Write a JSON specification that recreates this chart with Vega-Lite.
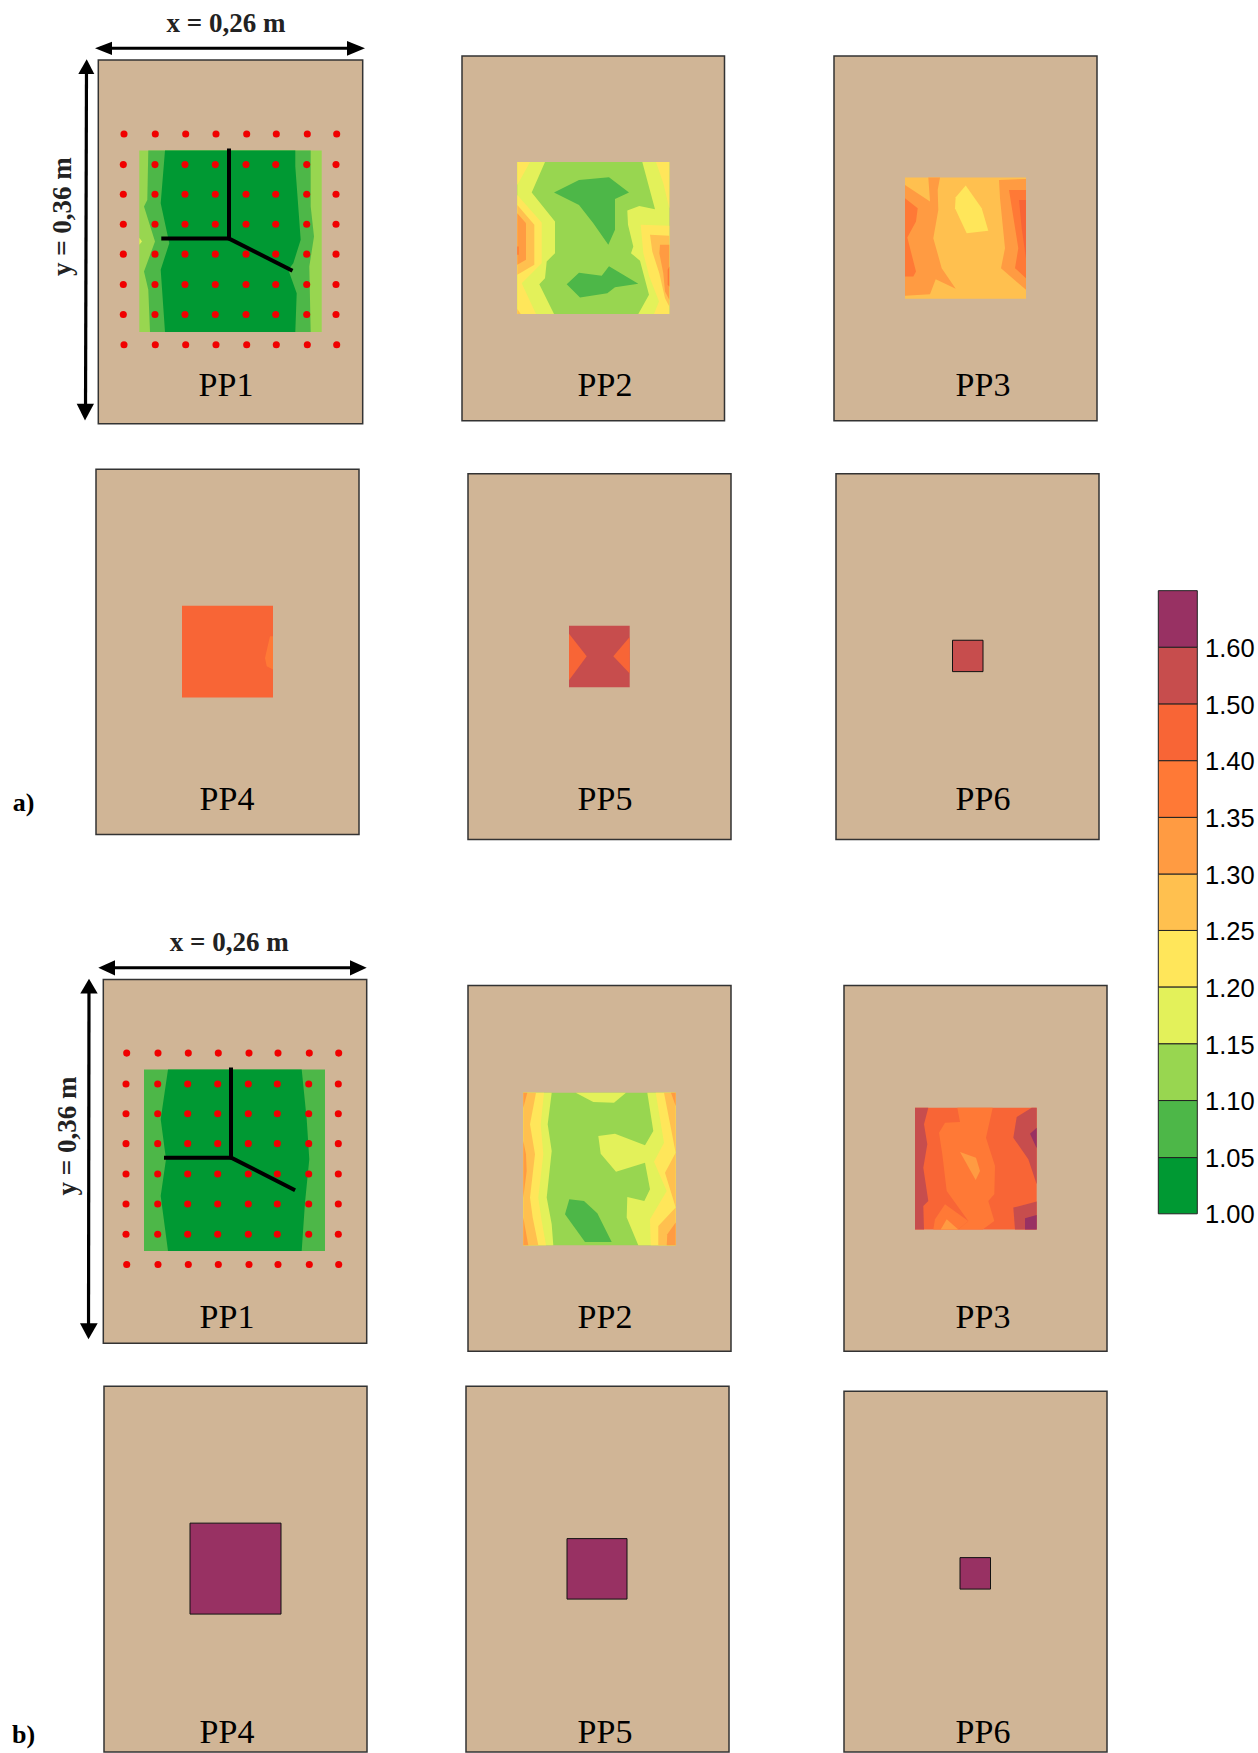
{"$schema":"https://vega.github.io/schema/vega-lite/v6.json","width":1258,"height":1753,"autosize":{"type":"fit","contains":"padding"},"padding":0,"background":"white","config":{"view":{"stroke":null}},
"datasets":{
"plates":[{"x":98.3,"x2":362.7,"y":60,"y2":424},{"x":462,"x2":724.5,"y":56,"y2":421},{"x":834,"x2":1097,"y":56,"y2":421},{"x":96,"x2":359,"y":469.5,"y2":835},{"x":468,"x2":731,"y":474,"y2":840},{"x":836,"x2":1099,"y":474,"y2":840},{"x":103.3,"x2":366.7,"y":980,"y2":1344},{"x":468,"x2":731,"y":986,"y2":1352},{"x":844,"x2":1107,"y":986,"y2":1352},{"x":104,"x2":367,"y":1387,"y2":1753},{"x":466,"x2":729,"y":1387,"y2":1753},{"x":844,"x2":1107,"y":1392,"y2":1753}],
"squares":[{"c":"1.10","x":139.3,"x2":321.7,"y":150.7,"y2":332.3},{"c":"1.10","x":517.3,"x2":669.3,"y":162,"y2":314.3},{"c":"1.25","x":905,"x2":1026,"y":177.7,"y2":299},{"c":"1.40","x":182,"x2":273,"y":606,"y2":698},{"c":"1.50","x":569,"x2":629.7,"y":626,"y2":687.7},{"c":"1.05","x":144,"x2":325,"y":1070,"y2":1251.7},{"c":"1.10","x":523.3,"x2":675.7,"y":1093.3,"y2":1246},{"c":"1.40","x":915,"x2":1036.7,"y":1108.3,"y2":1230.3}],
"outlined":[{"c":"1.50","x":952.5,"x2":983,"y":640.6,"y2":672},{"c":"1.60","x":190,"x2":281,"y":1524,"y2":1615},{"c":"1.60","x":567,"x2":627,"y":1539.5,"y2":1600},{"c":"1.60","x":960,"x2":990.5,"y":1558.5,"y2":1590}],
"colorbar":[{"c":"1.60","x":1158.3,"x2":1197.3,"y":591,"y2":647.7},{"c":"1.50","x":1158.3,"x2":1197.3,"y":647.7,"y2":704.5},{"c":"1.40","x":1158.3,"x2":1197.3,"y":704.5,"y2":761.2},{"c":"1.35","x":1158.3,"x2":1197.3,"y":761.2,"y2":817.9},{"c":"1.30","x":1158.3,"x2":1197.3,"y":817.9,"y2":874.7},{"c":"1.25","x":1158.3,"x2":1197.3,"y":874.7,"y2":931},{"c":"1.20","x":1158.3,"x2":1197.3,"y":931,"y2":987.7},{"c":"1.15","x":1158.3,"x2":1197.3,"y":987.7,"y2":1044.5},{"c":"1.10","x":1158.3,"x2":1197.3,"y":1044.5,"y2":1101.2},{"c":"1.05","x":1158.3,"x2":1197.3,"y":1101.2,"y2":1158.3},{"c":"1.00","x":1158.3,"x2":1197.3,"y":1158.3,"y2":1214.5}],
"ticks":[{"t":"1.60","x":1205,"y":649.5},{"t":"1.50","x":1205,"y":706.5},{"t":"1.40","x":1205,"y":762},{"t":"1.35","x":1205,"y":819},{"t":"1.30","x":1205,"y":876},{"t":"1.25","x":1205,"y":933},{"t":"1.20","x":1205,"y":989.5},{"t":"1.15","x":1205,"y":1046.5},{"t":"1.10","x":1205,"y":1102.5},{"t":"1.05","x":1205,"y":1159.5},{"t":"1.00","x":1205,"y":1216}],
"labels":[{"t":"PP1","x":226,"y":386},{"t":"PP2","x":605,"y":386},{"t":"PP3","x":983,"y":386},{"t":"PP4","x":227,"y":800.5},{"t":"PP5","x":605,"y":800.5},{"t":"PP6","x":983,"y":800.5},{"t":"PP1","x":227,"y":1319},{"t":"PP2","x":605,"y":1319},{"t":"PP3","x":983,"y":1319},{"t":"PP4","x":227,"y":1734},{"t":"PP5","x":605,"y":1734},{"t":"PP6","x":983,"y":1734}],
"dims":[{"t":"x = 0,26 m","x":226,"y":24},{"t":"x = 0,26 m","x":229.3,"y":944}],
"dimsv":[{"t":"y = 0,36 m","x":62.7,"y":216.7},{"t":"y = 0,36 m","x":67.7,"y":1136.7}],
"tags":[{"t":"a)","x":23.5,"y":803},{"t":"b)","x":23.5,"y":1736}],
"polys":[
{"s":"a1y","c":"1.15","x":139.3,"y":238},{"s":"a1y","c":"1.15","x":142,"y":241.7},{"s":"a1y","c":"1.15","x":139.3,"y":245},
{"s":"a1a","c":"1.05","x":148.3,"y":150.7},{"s":"a1a","c":"1.05","x":147.3,"y":200},{"s":"a1a","c":"1.05","x":144,"y":206.7},{"s":"a1a","c":"1.05","x":155,"y":241.7},{"s":"a1a","c":"1.05","x":144,"y":271.7},{"s":"a1a","c":"1.05","x":148.3,"y":290},{"s":"a1a","c":"1.05","x":150,"y":332.3},{"s":"a1a","c":"1.05","x":310.7,"y":332.3},{"s":"a1a","c":"1.05","x":309.3,"y":266.7},{"s":"a1a","c":"1.05","x":314,"y":236.7},{"s":"a1a","c":"1.05","x":310.7,"y":206.7},{"s":"a1a","c":"1.05","x":310.7,"y":150.7},
{"s":"a1b","c":"1.00","x":165,"y":150.7},{"s":"a1b","c":"1.00","x":160.7,"y":203.3},{"s":"a1b","c":"1.00","x":169.3,"y":243.3},{"s":"a1b","c":"1.00","x":160.7,"y":270},{"s":"a1b","c":"1.00","x":165,"y":332.3},{"s":"a1b","c":"1.00","x":295.3,"y":332.3},{"s":"a1b","c":"1.00","x":296.7,"y":293.3},{"s":"a1b","c":"1.00","x":288.3,"y":270},{"s":"a1b","c":"1.00","x":293.3,"y":263.3},{"s":"a1b","c":"1.00","x":300.7,"y":240},{"s":"a1b","c":"1.00","x":295.3,"y":166.7},{"s":"a1b","c":"1.00","x":295.3,"y":150.7},
{"s":"a2a","c":"1.15","x":517.3,"y":162},{"s":"a2a","c":"1.15","x":545,"y":162},{"s":"a2a","c":"1.15","x":531.7,"y":192.7},{"s":"a2a","c":"1.15","x":555,"y":221.7},{"s":"a2a","c":"1.15","x":555,"y":253.3},{"s":"a2a","c":"1.15","x":546.7,"y":261.7},{"s":"a2a","c":"1.15","x":545,"y":278.3},{"s":"a2a","c":"1.15","x":539.3,"y":284.3},{"s":"a2a","c":"1.15","x":554,"y":314.3},{"s":"a2a","c":"1.15","x":517.3,"y":314.3},
{"s":"a2b","c":"1.20","x":517.3,"y":162},{"s":"a2b","c":"1.20","x":530,"y":162},{"s":"a2b","c":"1.20","x":517.3,"y":185},
{"s":"a2c","c":"1.20","x":517.3,"y":195},{"s":"a2c","c":"1.20","x":541.7,"y":222.7},{"s":"a2c","c":"1.20","x":541.7,"y":263.3},{"s":"a2c","c":"1.20","x":521.7,"y":283.3},{"s":"a2c","c":"1.20","x":536,"y":314.3},{"s":"a2c","c":"1.20","x":517.3,"y":314.3},
{"s":"a2d","c":"1.25","x":517.3,"y":205},{"s":"a2d","c":"1.25","x":534.3,"y":225},{"s":"a2d","c":"1.25","x":534.3,"y":265},{"s":"a2d","c":"1.25","x":517.3,"y":275},
{"s":"a2e","c":"1.30","x":517.3,"y":213.3},{"s":"a2e","c":"1.30","x":526,"y":223.3},{"s":"a2e","c":"1.30","x":526,"y":260},{"s":"a2e","c":"1.30","x":517.3,"y":265},
{"s":"a2f","c":"1.35","x":517.3,"y":246.7},{"s":"a2f","c":"1.35","x":518.7,"y":246.7},{"s":"a2f","c":"1.35","x":518.7,"y":255},{"s":"a2f","c":"1.35","x":517.3,"y":255},
{"s":"a2g","c":"1.25","x":517.3,"y":309.3},{"s":"a2g","c":"1.25","x":520.7,"y":314.3},{"s":"a2g","c":"1.25","x":517.3,"y":314.3},
{"s":"a2h","c":"1.15","x":642.3,"y":162},{"s":"a2h","c":"1.15","x":669.3,"y":162},{"s":"a2h","c":"1.15","x":669.3,"y":314.3},{"s":"a2h","c":"1.15","x":638.3,"y":314.3},{"s":"a2h","c":"1.15","x":649,"y":295},{"s":"a2h","c":"1.15","x":640,"y":261},{"s":"a2h","c":"1.15","x":631,"y":253.3},{"s":"a2h","c":"1.15","x":633.3,"y":246.7},{"s":"a2h","c":"1.15","x":628,"y":225},{"s":"a2h","c":"1.15","x":627.3,"y":210.7},{"s":"a2h","c":"1.15","x":639.3,"y":206},{"s":"a2h","c":"1.15","x":655,"y":209.3},
{"s":"a2i","c":"1.20","x":656,"y":162},{"s":"a2i","c":"1.20","x":669.3,"y":162},{"s":"a2i","c":"1.20","x":669.3,"y":208.3},{"s":"a2i","c":"1.20","x":663.3,"y":183.3},
{"s":"a2j","c":"1.20","x":640.7,"y":225},{"s":"a2j","c":"1.20","x":669.3,"y":226},{"s":"a2j","c":"1.20","x":669.3,"y":314.3},{"s":"a2j","c":"1.20","x":654,"y":314.3},{"s":"a2j","c":"1.20","x":659,"y":301.7},{"s":"a2j","c":"1.20","x":649.3,"y":276.7},{"s":"a2j","c":"1.20","x":643.3,"y":253.3},
{"s":"a2k","c":"1.25","x":650,"y":235},{"s":"a2k","c":"1.25","x":669.3,"y":236},{"s":"a2k","c":"1.25","x":669.3,"y":306.7},{"s":"a2k","c":"1.25","x":665,"y":298.3},{"s":"a2k","c":"1.25","x":659.3,"y":273.3},{"s":"a2k","c":"1.25","x":652.3,"y":251.7},
{"s":"a2l","c":"1.30","x":660,"y":245},{"s":"a2l","c":"1.30","x":669.3,"y":245},{"s":"a2l","c":"1.30","x":669.3,"y":300},{"s":"a2l","c":"1.30","x":665,"y":291.7},{"s":"a2l","c":"1.30","x":663.3,"y":273.3},{"s":"a2l","c":"1.30","x":659.3,"y":253.3},
{"s":"a2m","c":"1.35","x":667.7,"y":270},{"s":"a2m","c":"1.35","x":669.3,"y":266.7},{"s":"a2m","c":"1.35","x":669.3,"y":286.7},{"s":"a2m","c":"1.35","x":667.7,"y":285},
{"s":"a2n","c":"1.05","x":554,"y":192.7},{"s":"a2n","c":"1.05","x":579,"y":180},{"s":"a2n","c":"1.05","x":609,"y":177.3},{"s":"a2n","c":"1.05","x":629,"y":192.7},{"s":"a2n","c":"1.05","x":615,"y":199},{"s":"a2n","c":"1.05","x":615,"y":230},{"s":"a2n","c":"1.05","x":608.3,"y":245},{"s":"a2n","c":"1.05","x":593.3,"y":223.3},{"s":"a2n","c":"1.05","x":579,"y":205},
{"s":"a2o","c":"1.05","x":566.7,"y":284.3},{"s":"a2o","c":"1.05","x":579,"y":273},{"s":"a2o","c":"1.05","x":601.7,"y":276},{"s":"a2o","c":"1.05","x":609,"y":266.3},{"s":"a2o","c":"1.05","x":638.3,"y":284},{"s":"a2o","c":"1.05","x":615,"y":287.3},{"s":"a2o","c":"1.05","x":607.3,"y":293.3},{"s":"a2o","c":"1.05","x":580,"y":297.7},
{"s":"a3a","c":"1.30","x":905,"y":185},{"s":"a3a","c":"1.30","x":930,"y":201.7},{"s":"a3a","c":"1.30","x":928.3,"y":177.7},{"s":"a3a","c":"1.30","x":940,"y":177.7},{"s":"a3a","c":"1.30","x":937.7,"y":190},{"s":"a3a","c":"1.30","x":938.3,"y":210},{"s":"a3a","c":"1.30","x":933.3,"y":238.3},{"s":"a3a","c":"1.30","x":941.7,"y":268.3},{"s":"a3a","c":"1.30","x":955.7,"y":289},{"s":"a3a","c":"1.30","x":935.7,"y":279.3},{"s":"a3a","c":"1.30","x":930,"y":294.3},{"s":"a3a","c":"1.30","x":905,"y":296},
{"s":"a3b","c":"1.35","x":905,"y":198.3},{"s":"a3b","c":"1.35","x":917.7,"y":208.3},{"s":"a3b","c":"1.35","x":916,"y":221.7},{"s":"a3b","c":"1.35","x":907.3,"y":237.7},{"s":"a3b","c":"1.35","x":916,"y":271.7},{"s":"a3b","c":"1.35","x":913.3,"y":276.7},{"s":"a3b","c":"1.35","x":905,"y":276.7},
{"s":"a3c","c":"1.30","x":999,"y":180},{"s":"a3c","c":"1.30","x":1026,"y":179},{"s":"a3c","c":"1.30","x":1026,"y":290},{"s":"a3c","c":"1.30","x":1001,"y":268.3},{"s":"a3c","c":"1.30","x":1005,"y":248.3},{"s":"a3c","c":"1.30","x":1000,"y":198.3},
{"s":"a3d","c":"1.35","x":1009,"y":190},{"s":"a3d","c":"1.35","x":1026,"y":190},{"s":"a3d","c":"1.35","x":1026,"y":278.3},{"s":"a3d","c":"1.35","x":1015,"y":268.3},{"s":"a3d","c":"1.35","x":1018.3,"y":248.3},
{"s":"a3e","c":"1.40","x":1019,"y":200},{"s":"a3e","c":"1.40","x":1026,"y":200},{"s":"a3e","c":"1.40","x":1026,"y":258.3},{"s":"a3e","c":"1.40","x":1021.7,"y":228.3},
{"s":"a3f","c":"1.20","x":965.7,"y":185.7},{"s":"a3f","c":"1.20","x":981.7,"y":208.3},{"s":"a3f","c":"1.20","x":988.3,"y":231},{"s":"a3f","c":"1.20","x":966.7,"y":233.3},{"s":"a3f","c":"1.20","x":955,"y":208.3},{"s":"a3f","c":"1.20","x":955.7,"y":197.3},
{"s":"a4a","c":"1.35","x":273,"y":636.7},{"s":"a4a","c":"1.35","x":270,"y":636.7},{"s":"a4a","c":"1.35","x":265,"y":658.3},{"s":"a4a","c":"1.35","x":266.7,"y":666.7},{"s":"a4a","c":"1.35","x":273,"y":670},
{"s":"a5a","c":"1.40","x":569,"y":634},{"s":"a5a","c":"1.40","x":586.7,"y":656.7},{"s":"a5a","c":"1.40","x":569,"y":680.7},
{"s":"a5b","c":"1.40","x":629.7,"y":637.3},{"s":"a5b","c":"1.40","x":613.3,"y":656.7},{"s":"a5b","c":"1.40","x":629.7,"y":674},
{"s":"b1a","c":"1.00","x":168,"y":1070},{"s":"b1a","c":"1.00","x":160.7,"y":1120},{"s":"b1a","c":"1.00","x":166,"y":1160},{"s":"b1a","c":"1.00","x":160.7,"y":1196.7},{"s":"b1a","c":"1.00","x":168,"y":1251.7},{"s":"b1a","c":"1.00","x":301.7,"y":1251.7},{"s":"b1a","c":"1.00","x":305,"y":1203.3},{"s":"b1a","c":"1.00","x":309.3,"y":1160},{"s":"b1a","c":"1.00","x":306.7,"y":1120},{"s":"b1a","c":"1.00","x":301.7,"y":1070},
{"s":"b2a","c":"1.15","x":523.3,"y":1093.3},{"s":"b2a","c":"1.15","x":551.7,"y":1093.3},{"s":"b2a","c":"1.15","x":547.7,"y":1125},{"s":"b2a","c":"1.15","x":551.7,"y":1151.7},{"s":"b2a","c":"1.15","x":546.7,"y":1198.3},{"s":"b2a","c":"1.15","x":551.7,"y":1225},{"s":"b2a","c":"1.15","x":553.3,"y":1246},{"s":"b2a","c":"1.15","x":523.3,"y":1246},
{"s":"b2b","c":"1.20","x":523.3,"y":1093.3},{"s":"b2b","c":"1.20","x":544,"y":1093.3},{"s":"b2b","c":"1.20","x":540.7,"y":1125},{"s":"b2b","c":"1.20","x":543.3,"y":1155},{"s":"b2b","c":"1.20","x":538.3,"y":1198.3},{"s":"b2b","c":"1.20","x":541.7,"y":1221.7},{"s":"b2b","c":"1.20","x":546,"y":1246},{"s":"b2b","c":"1.20","x":523.3,"y":1246},
{"s":"b2c","c":"1.25","x":523.3,"y":1093.3},{"s":"b2c","c":"1.25","x":536,"y":1093.3},{"s":"b2c","c":"1.25","x":530,"y":1125},{"s":"b2c","c":"1.25","x":535,"y":1155},{"s":"b2c","c":"1.25","x":530,"y":1198.3},{"s":"b2c","c":"1.25","x":532.7,"y":1218.3},{"s":"b2c","c":"1.25","x":538.3,"y":1246},{"s":"b2c","c":"1.25","x":523.3,"y":1246},
{"s":"b2d","c":"1.30","x":523.3,"y":1093.3},{"s":"b2d","c":"1.30","x":527.3,"y":1093.3},{"s":"b2d","c":"1.30","x":523.3,"y":1108.3},
{"s":"b2e","c":"1.30","x":523.3,"y":1141.7},{"s":"b2e","c":"1.30","x":526,"y":1155},{"s":"b2e","c":"1.30","x":526.7,"y":1171.7},{"s":"b2e","c":"1.30","x":523.3,"y":1198.3},
{"s":"b2f","c":"1.30","x":523.3,"y":1218.3},{"s":"b2f","c":"1.30","x":528.3,"y":1246},{"s":"b2f","c":"1.30","x":523.3,"y":1246},
{"s":"b2g","c":"1.15","x":575.7,"y":1093.3},{"s":"b2g","c":"1.15","x":626,"y":1093.3},{"s":"b2g","c":"1.15","x":614,"y":1103.3},{"s":"b2g","c":"1.15","x":593.3,"y":1102.7},
{"s":"b2h","c":"1.15","x":647.3,"y":1093.3},{"s":"b2h","c":"1.15","x":675.7,"y":1093.3},{"s":"b2h","c":"1.15","x":675.7,"y":1246},{"s":"b2h","c":"1.15","x":638.3,"y":1246},{"s":"b2h","c":"1.15","x":626.7,"y":1218.3},{"s":"b2h","c":"1.15","x":627.3,"y":1197.7},{"s":"b2h","c":"1.15","x":644.3,"y":1201.7},{"s":"b2h","c":"1.15","x":650,"y":1190},{"s":"b2h","c":"1.15","x":645,"y":1163.3},{"s":"b2h","c":"1.15","x":616,"y":1172.3},{"s":"b2h","c":"1.15","x":600.7,"y":1154.3},{"s":"b2h","c":"1.15","x":598.3,"y":1136.7},{"s":"b2h","c":"1.15","x":615,"y":1134.3},{"s":"b2h","c":"1.15","x":645,"y":1146},{"s":"b2h","c":"1.15","x":653.3,"y":1131.7},
{"s":"b2i","c":"1.20","x":655.7,"y":1093.3},{"s":"b2i","c":"1.20","x":675.7,"y":1093.3},{"s":"b2i","c":"1.20","x":675.7,"y":1246},{"s":"b2i","c":"1.20","x":650.7,"y":1246},{"s":"b2i","c":"1.20","x":650,"y":1220},{"s":"b2i","c":"1.20","x":666.7,"y":1191.7},{"s":"b2i","c":"1.20","x":654,"y":1162.3},{"s":"b2i","c":"1.20","x":664,"y":1143.3},
{"s":"b2j","c":"1.25","x":664,"y":1093.3},{"s":"b2j","c":"1.25","x":675.7,"y":1093.3},{"s":"b2j","c":"1.25","x":675.7,"y":1246},{"s":"b2j","c":"1.25","x":658.3,"y":1246},{"s":"b2j","c":"1.25","x":658.3,"y":1226.7},{"s":"b2j","c":"1.25","x":675.7,"y":1208.3},{"s":"b2j","c":"1.25","x":665,"y":1173.3},{"s":"b2j","c":"1.25","x":675.7,"y":1153.3},
{"s":"b2k","c":"1.30","x":671,"y":1093.3},{"s":"b2k","c":"1.30","x":675.7,"y":1093.3},{"s":"b2k","c":"1.30","x":675.7,"y":1106.7},
{"s":"b2l","c":"1.30","x":675.7,"y":1223.3},{"s":"b2l","c":"1.30","x":675.7,"y":1246},{"s":"b2l","c":"1.30","x":666.7,"y":1246},{"s":"b2l","c":"1.30","x":667.3,"y":1235},
{"s":"b2m","c":"1.05","x":569.3,"y":1200},{"s":"b2m","c":"1.05","x":584,"y":1201.7},{"s":"b2m","c":"1.05","x":597.3,"y":1214},{"s":"b2m","c":"1.05","x":611.7,"y":1242.7},{"s":"b2m","c":"1.05","x":585,"y":1242.7},{"s":"b2m","c":"1.05","x":565,"y":1215},
{"s":"b3a","c":"1.50","x":915,"y":1108.3},{"s":"b3a","c":"1.50","x":928.3,"y":1108.3},{"s":"b3a","c":"1.50","x":924,"y":1125},{"s":"b3a","c":"1.50","x":927.3,"y":1145},{"s":"b3a","c":"1.50","x":923.3,"y":1168.3},{"s":"b3a","c":"1.50","x":928.3,"y":1201.7},{"s":"b3a","c":"1.50","x":923.3,"y":1206.7},{"s":"b3a","c":"1.50","x":924,"y":1230.3},{"s":"b3a","c":"1.50","x":915,"y":1230.3},
{"s":"b3b","c":"1.50","x":1031.7,"y":1108.3},{"s":"b3b","c":"1.50","x":1036.7,"y":1108.3},{"s":"b3b","c":"1.50","x":1036.7,"y":1185},{"s":"b3b","c":"1.50","x":1028.3,"y":1160},{"s":"b3b","c":"1.50","x":1013.3,"y":1138.3},{"s":"b3b","c":"1.50","x":1016.7,"y":1117.7},
{"s":"b3c","c":"1.50","x":1013.3,"y":1208.3},{"s":"b3c","c":"1.50","x":1036.7,"y":1202.3},{"s":"b3c","c":"1.50","x":1036.7,"y":1230.3},{"s":"b3c","c":"1.50","x":1015,"y":1230.3},
{"s":"b3d","c":"1.60","x":1030,"y":1134.3},{"s":"b3d","c":"1.60","x":1036.7,"y":1128.3},{"s":"b3d","c":"1.60","x":1036.7,"y":1149},
{"s":"b3e","c":"1.60","x":1025,"y":1219},{"s":"b3e","c":"1.60","x":1036.7,"y":1215.7},{"s":"b3e","c":"1.60","x":1036.7,"y":1230.3},{"s":"b3e","c":"1.60","x":1025,"y":1230.3},
{"s":"b3f","c":"1.35","x":957.3,"y":1108.3},{"s":"b3f","c":"1.35","x":992.7,"y":1108.3},{"s":"b3f","c":"1.35","x":986,"y":1138.3},{"s":"b3f","c":"1.35","x":995,"y":1166.7},{"s":"b3f","c":"1.35","x":994.3,"y":1195},{"s":"b3f","c":"1.35","x":988.3,"y":1201.7},{"s":"b3f","c":"1.35","x":994.3,"y":1221.7},{"s":"b3f","c":"1.35","x":982.7,"y":1230.3},{"s":"b3f","c":"1.35","x":958.3,"y":1230.3},{"s":"b3f","c":"1.35","x":968.3,"y":1221.7},{"s":"b3f","c":"1.35","x":946.7,"y":1191.7},{"s":"b3f","c":"1.35","x":942.3,"y":1155},{"s":"b3f","c":"1.35","x":939,"y":1133.3},{"s":"b3f","c":"1.35","x":945,"y":1123.3},{"s":"b3f","c":"1.35","x":960,"y":1122.7},
{"s":"b3g","c":"1.35","x":945,"y":1205},{"s":"b3g","c":"1.35","x":968.3,"y":1221.7},{"s":"b3g","c":"1.35","x":958.3,"y":1230.3},{"s":"b3g","c":"1.35","x":933.3,"y":1230.3},{"s":"b3g","c":"1.35","x":935,"y":1220},
{"s":"b3h","c":"1.30","x":960,"y":1152.7},{"s":"b3h","c":"1.30","x":976,"y":1158.3},{"s":"b3h","c":"1.30","x":980,"y":1171.7},{"s":"b3h","c":"1.30","x":975.7,"y":1180.7},
{"s":"b3i","c":"1.30","x":946.7,"y":1220},{"s":"b3i","c":"1.30","x":958.3,"y":1230.3},{"s":"b3i","c":"1.30","x":940.7,"y":1230.3}
],
"heads":[
{"s":"h1","x":95,"y":48.3},{"s":"h1","x":112,"y":41.7},{"s":"h1","x":112,"y":55},
{"s":"h2","x":365,"y":48.3},{"s":"h2","x":347,"y":41},{"s":"h2","x":347,"y":55.7},
{"s":"h3","x":86.7,"y":59.3},{"s":"h3","x":78.3,"y":74},{"s":"h3","x":94.3,"y":74},
{"s":"h4","x":85,"y":420.7},{"s":"h4","x":76.7,"y":404},{"s":"h4","x":94,"y":404},
{"s":"h5","x":98.3,"y":968.3},{"s":"h5","x":115,"y":960.7},{"s":"h5","x":115,"y":976},
{"s":"h6","x":366.7,"y":968.3},{"s":"h6","x":350,"y":960.7},{"s":"h6","x":350,"y":976},
{"s":"h7","x":89,"y":979.3},{"s":"h7","x":80.3,"y":994},{"s":"h7","x":97.7,"y":994},
{"s":"h8","x":88.5,"y":1340},{"s":"h8","x":80,"y":1324},{"s":"h8","x":97.7,"y":1324}
],
"shafts":[
{"s":"s1","x":100,"y":48.3},{"s":"s1","x":360,"y":48.3},
{"s":"s2","x":86.5,"y":65},{"s":"s2","x":85.5,"y":415},
{"s":"s3","x":103,"y":968.3},{"s":"s3","x":362,"y":968.3},
{"s":"s4","x":89,"y":985},{"s":"s4","x":88.5,"y":1335}
],
"cracks":[
{"s":"c1","x":229,"y":150.7},{"s":"c1","x":229,"y":238.7},{"s":"c1","x":163.3,"y":238.7},
{"s":"c2","x":229,"y":238.7},{"s":"c2","x":290.7,"y":270},
{"s":"c3","x":231,"y":1070},{"s":"c3","x":231,"y":1158.3},{"s":"c3","x":166,"y":1158.3},
{"s":"c4","x":231,"y":1158.3},{"s":"c4","x":293.3,"y":1190}
],
"dots":[
{"x":124,"y":134},{"x":155.3,"y":134},{"x":185.7,"y":134},{"x":216,"y":134},{"x":246.7,"y":134},{"x":276.3,"y":134},{"x":307.3,"y":134},{"x":336.7,"y":134},
{"x":123.3,"y":164.7},{"x":155,"y":164.7},{"x":185,"y":164.7},{"x":215.3,"y":164.7},{"x":246,"y":164.7},{"x":275.7,"y":164.7},{"x":306.7,"y":164.7},{"x":336,"y":164.7},
{"x":123.3,"y":194.3},{"x":155,"y":194.3},{"x":185,"y":194.3},{"x":215.3,"y":194.3},{"x":246,"y":194.3},{"x":275.7,"y":194.3},{"x":306.7,"y":194.3},{"x":336,"y":194.3},
{"x":123.3,"y":224.3},{"x":155,"y":224.3},{"x":185,"y":224.3},{"x":215.3,"y":224.3},{"x":246,"y":224.3},{"x":275.7,"y":224.3},{"x":306.7,"y":224.3},{"x":336,"y":224.3},
{"x":123.3,"y":254.3},{"x":155,"y":254.3},{"x":185,"y":254.3},{"x":215.3,"y":254.3},{"x":246,"y":254.3},{"x":275.7,"y":254.3},{"x":306.7,"y":254.3},{"x":336,"y":254.3},
{"x":123.3,"y":284.7},{"x":155,"y":284.7},{"x":185,"y":284.7},{"x":215.3,"y":284.7},{"x":246,"y":284.7},{"x":275.7,"y":284.7},{"x":306.7,"y":284.7},{"x":336,"y":284.7},
{"x":123.3,"y":314.7},{"x":155,"y":314.7},{"x":185,"y":314.7},{"x":215.3,"y":314.7},{"x":246,"y":314.7},{"x":275.7,"y":314.7},{"x":306.7,"y":314.7},{"x":336,"y":314.7},
{"x":124,"y":345},{"x":155.3,"y":345},{"x":185.7,"y":345},{"x":216,"y":345},{"x":246.7,"y":345},{"x":276.3,"y":345},{"x":307.3,"y":345},{"x":336.7,"y":345},
{"x":126.7,"y":1053.7},{"x":158,"y":1053.7},{"x":188.3,"y":1053.7},{"x":218.3,"y":1053.7},{"x":249,"y":1053.7},{"x":278,"y":1053.7},{"x":309.3,"y":1053.7},{"x":338.7,"y":1053.7},
{"x":126,"y":1084.7},{"x":157.7,"y":1084.7},{"x":187.7,"y":1084.7},{"x":217.7,"y":1084.7},{"x":248.3,"y":1084.7},{"x":277.3,"y":1084.7},{"x":308.7,"y":1084.7},{"x":338.3,"y":1084.7},
{"x":126,"y":1114.3},{"x":157.7,"y":1114.3},{"x":187.7,"y":1114.3},{"x":217.7,"y":1114.3},{"x":248.3,"y":1114.3},{"x":277.3,"y":1114.3},{"x":308.7,"y":1114.3},{"x":338.3,"y":1114.3},
{"x":126,"y":1144.3},{"x":157.7,"y":1144.3},{"x":187.7,"y":1144.3},{"x":217.7,"y":1144.3},{"x":248.3,"y":1144.3},{"x":277.3,"y":1144.3},{"x":308.7,"y":1144.3},{"x":338.3,"y":1144.3},
{"x":126,"y":1174.7},{"x":157.7,"y":1174.7},{"x":187.7,"y":1174.7},{"x":217.7,"y":1174.7},{"x":248.3,"y":1174.7},{"x":277.3,"y":1174.7},{"x":308.7,"y":1174.7},{"x":338.3,"y":1174.7},
{"x":126,"y":1204.7},{"x":157.7,"y":1204.7},{"x":187.7,"y":1204.7},{"x":217.7,"y":1204.7},{"x":248.3,"y":1204.7},{"x":277.3,"y":1204.7},{"x":308.7,"y":1204.7},{"x":338.3,"y":1204.7},
{"x":126,"y":1235},{"x":157.7,"y":1235},{"x":187.7,"y":1235},{"x":217.7,"y":1235},{"x":248.3,"y":1235},{"x":277.3,"y":1235},{"x":308.7,"y":1235},{"x":338.3,"y":1235},
{"x":126.7,"y":1265.3},{"x":158,"y":1265.3},{"x":188.3,"y":1265.3},{"x":218.3,"y":1265.3},{"x":249,"y":1265.3},{"x":278,"y":1265.3},{"x":309.3,"y":1265.3},{"x":338.7,"y":1265.3}
]
},
"encoding":{
"x":{"field":"x","type":"quantitative","axis":null,"scale":{"domain":[0,1258],"nice":false,"zero":false}},
"y":{"field":"y","type":"quantitative","axis":null,"scale":{"domain":[1753,0],"nice":false,"zero":false}}
},
"layer":[
{"data":{"name":"plates"},"mark":{"type":"rect","fill":"#D0B596","stroke":"#333333","strokeWidth":1.5},"encoding":{"x2":{"field":"x2"},"y2":{"field":"y2"}}},
{"data":{"name":"squares"},"mark":{"type":"rect"},"encoding":{"x2":{"field":"x2"},"y2":{"field":"y2"},"color":{"field":"c","type":"nominal","legend":null,"scale":{"domain":["1.00","1.05","1.10","1.15","1.20","1.25","1.30","1.35","1.40","1.50","1.60"],"range":["#009933","#4DB748","#98D650","#E3F15A","#FFE65A","#FFC04F","#FF9B42","#FF7936","#F86536","#C74D4D","#983163"]}}}},
{"data":{"name":"polys"},"transform":[{"window":[{"op":"row_number","as":"i"}]}],"mark":{"type":"line","filled":true,"strokeWidth":0,"interpolate":"linear"},"encoding":{"color":{"field":"c","type":"nominal","legend":null},"detail":{"field":"s"},"order":{"field":"i","type":"quantitative"}}},
{"data":{"name":"outlined"},"mark":{"type":"rect","stroke":"#111111","strokeWidth":1},"encoding":{"x2":{"field":"x2"},"y2":{"field":"y2"},"fill":{"field":"c","type":"nominal","legend":null,"scale":{"domain":["1.00","1.05","1.10","1.15","1.20","1.25","1.30","1.35","1.40","1.50","1.60"],"range":["#009933","#4DB748","#98D650","#E3F15A","#FFE65A","#FFC04F","#FF9B42","#FF7936","#F86536","#C74D4D","#983163"]}}}},
{"data":{"name":"colorbar"},"mark":{"type":"rect","stroke":"#222222","strokeWidth":1},"encoding":{"x2":{"field":"x2"},"y2":{"field":"y2"},"fill":{"field":"c","type":"nominal","legend":null}}},
{"data":{"name":"dots"},"mark":{"type":"circle","color":"#F00000","opacity":1,"size":50}},
{"data":{"name":"cracks"},"transform":[{"window":[{"op":"row_number","as":"i"}]}],"mark":{"type":"line","color":"black","strokeWidth":4,"strokeCap":"square","strokeJoin":"miter"},"encoding":{"detail":{"field":"s"},"order":{"field":"i","type":"quantitative"}}},
{"data":{"name":"shafts"},"transform":[{"window":[{"op":"row_number","as":"i"}]}],"mark":{"type":"line","color":"black","strokeWidth":3.2},"encoding":{"detail":{"field":"s"},"order":{"field":"i","type":"quantitative"}}},
{"data":{"name":"heads"},"transform":[{"window":[{"op":"row_number","as":"i"}]}],"mark":{"type":"line","filled":true,"color":"black","strokeWidth":0},"encoding":{"detail":{"field":"s"},"order":{"field":"i","type":"quantitative"}}},
{"data":{"name":"labels"},"mark":{"type":"text","font":"Liberation Serif","fontSize":34,"color":"black","align":"center","baseline":"middle"},"encoding":{"text":{"field":"t"}}},
{"data":{"name":"dims"},"mark":{"type":"text","font":"Liberation Serif","fontWeight":"bold","fontSize":27,"color":"#222222","align":"center","baseline":"middle"},"encoding":{"text":{"field":"t"}}},
{"data":{"name":"dimsv"},"mark":{"type":"text","font":"Liberation Serif","fontWeight":"bold","fontSize":27,"color":"#222222","align":"center","baseline":"middle","angle":270},"encoding":{"text":{"field":"t"}}},
{"data":{"name":"tags"},"mark":{"type":"text","font":"Liberation Serif","fontWeight":"bold","fontSize":26,"color":"black","align":"center","baseline":"middle"},"encoding":{"text":{"field":"t"}}},
{"data":{"name":"ticks"},"mark":{"type":"text","font":"Liberation Sans","fontSize":25.5,"color":"black","align":"left","baseline":"middle"},"encoding":{"text":{"field":"t"}}}
]}
